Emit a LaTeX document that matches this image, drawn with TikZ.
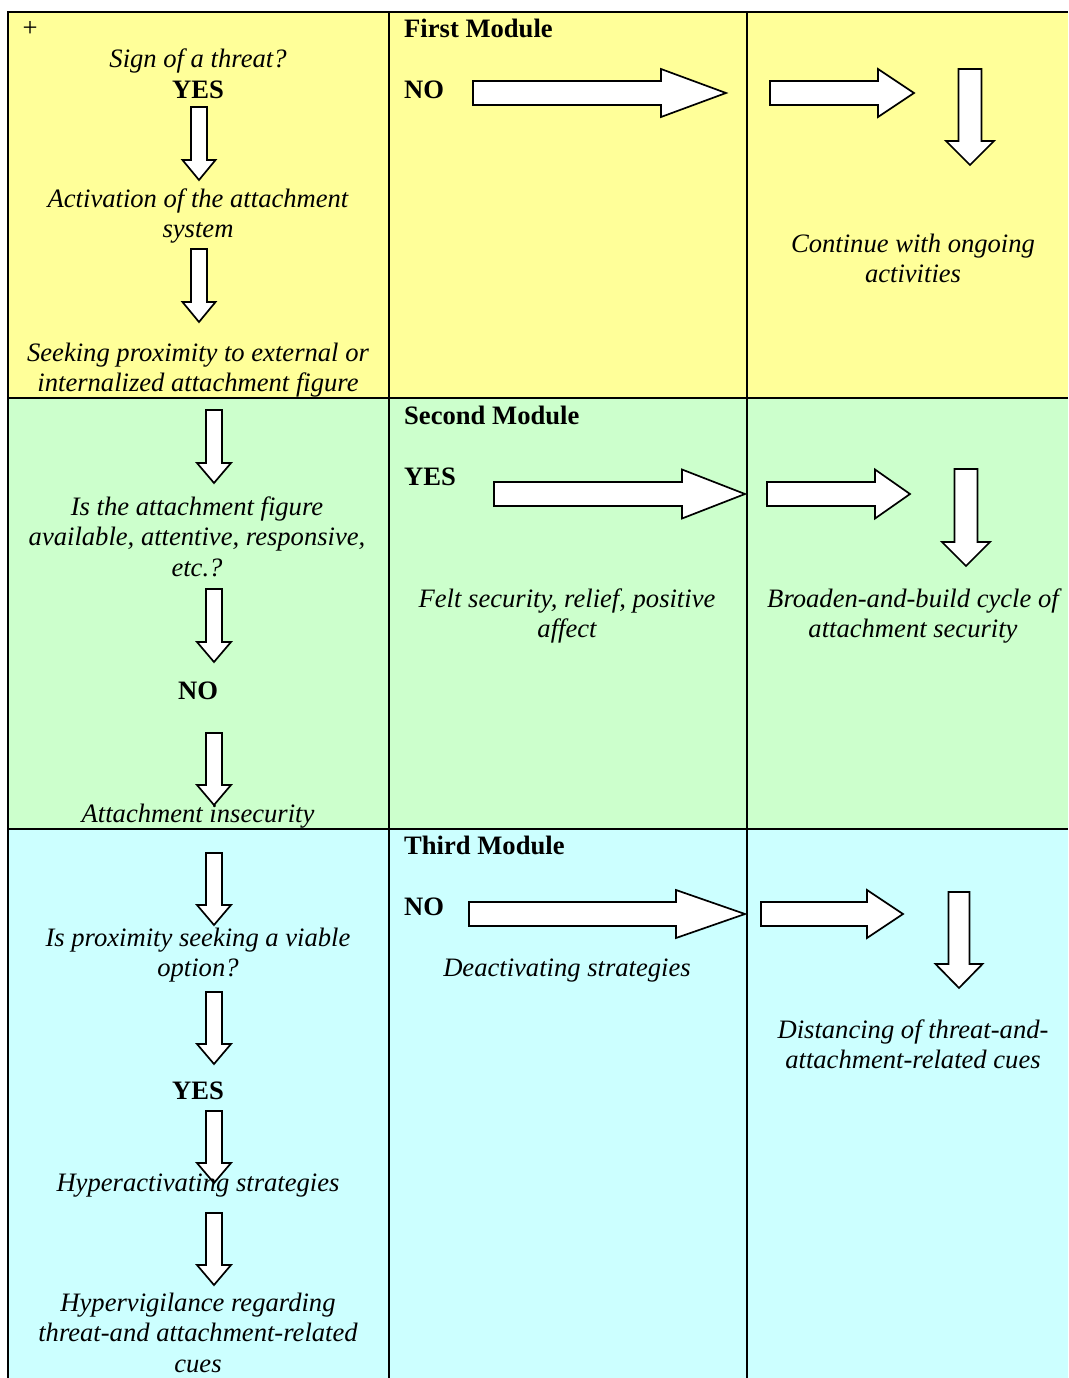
\documentclass[tikz,border=0pt]{standalone}
\usepackage{fontspec}
\setmainfont{Liberation Serif}
\definecolor{rowyellow}{HTML}{FFFF99}
\definecolor{rowgreen}{HTML}{CCFFCC}
\definecolor{rowcyan}{HTML}{CCFFFF}
\tikzset{
  blk/.style={draw=black, fill=white, line width=1.7pt, line join=miter},
  grid/.style={draw=black, line width=2pt},
  itxt/.style={font=\fontsize{26.6}{30.5}\selectfont\itshape, align=center, anchor=base, inner sep=0pt},
  btxt/.style={font=\fontsize{26.6}{30.5}\selectfont\bfseries, anchor=base, inner sep=0pt},
  hdr/.style={font=\fontsize{26.6}{30.5}\selectfont\bfseries, anchor=base west, inner sep=0pt},
}
% down block arrow: cx, ytop, ytip, shaft half-width, head half-width, head length
\newcommand\ArrDn[6]{%
  \draw[blk] ({#1-#4},#2) -- ({#1+#4},#2) -- ({#1+#4},{#3-#6}) -- ({#1+#5},{#3-#6})
    -- (#1,#3) -- ({#1-#5},{#3-#6}) -- ({#1-#4},{#3-#6}) -- cycle;}
% right block arrow: xleft, xheadbase, xtip, ycenter, shaft half-height, head half-height
\newcommand\ArrRt[6]{%
  \draw[blk] (#1,{#4-#5}) -- (#2,{#4-#5}) -- (#2,{#4-#6}) -- (#3,#4)
    -- (#2,{#4+#6}) -- (#2,{#4+#5}) -- (#1,{#4+#5}) -- cycle;}
\begin{document}
\begin{tikzpicture}[x=1pt,y=-1pt]
\useasboundingbox (0,0) rectangle (1068,1378);
% row backgrounds
\fill[rowyellow] (8,12) rectangle (1068,398);
\fill[rowgreen] (8,398) rectangle (1068,829);
\fill[rowcyan] (8,829) rectangle (1068,1378);
% grid lines
\draw[grid] (7,12) -- (1068,12);
\draw[grid] (8,12) -- (8,1378);
\draw[grid] (389,12) -- (389,1378);
\draw[grid] (747,12) -- (747,1378);
\draw[grid] (8,398) -- (1068,398);
\draw[grid] (8,829) -- (1068,829);

% ---- column 1 arrows
\ArrDn{199}{107}{180}{8}{16.5}{20}
\ArrDn{199}{249}{322}{8}{16.5}{20}
\ArrDn{214}{410}{483}{8}{17}{20}
\ArrDn{214}{589}{662}{8}{17}{20}
\ArrDn{214}{733}{805}{8}{17}{20}
\ArrDn{214}{853}{925}{8}{17}{20}
\ArrDn{214}{992}{1064}{8}{17}{20}
\ArrDn{214}{1111}{1183}{8}{17}{20}
\ArrDn{214}{1213}{1285}{8}{17}{20}

% ---- columns 2 and 3 arrows
\ArrRt{473}{661}{726}{93}{12}{24}
\ArrRt{770}{878}{914}{93}{12}{24}
\ArrDn{970}{69}{165}{11.5}{24}{24}

\ArrRt{494}{682}{745}{494}{12}{24.5}
\ArrRt{767}{875}{910}{494}{12}{24.5}
\ArrDn{966}{469}{566}{11.5}{24}{24}

\ArrRt{469}{676}{745}{914}{12}{24}
\ArrRt{761}{867}{903}{914}{12}{24}
\ArrDn{959}{892}{988}{10.5}{23.5}{24}

% ---- column 1 texts (multi-line nodes anchored at last line's baseline)
\node[btxt, font=\fontsize{26.6}{30}\selectfont] (plus) at (30,37) {+};
\node[itxt] (threat) at (198,68) {Sign of a threat?};
\node[btxt] (yes1) at (198,99) {YES};
\node[itxt] (activ) at (198,237.5) {Activation of the attachment\\system};
\node[itxt] (seek) at (198,391.5) {Seeking proximity to external or\\internalized attachment figure};
\node[itxt] (avail) at (197,576) {Is the attachment figure\\available, attentive, responsive,\\etc.?};
\node[btxt] (no2) at (198,699) {NO};
\node[itxt] (insec) at (198,822) {Attachment insecurity};
\node[itxt] (viable) at (198,976.5) {Is proximity seeking a viable\\option?};
\node[btxt] (yes3) at (198,1099) {YES};
\node[itxt] (hyper) at (198,1191) {Hyperactivating strategies};
\node[itxt] (vigil) at (198,1372) {Hypervigilance regarding\\threat-and attachment-related\\cues};

% ---- column 2 texts
\node[hdr] (mod1) at (404,38) {First Module};
\node[hdr] (no1) at (404,99) {NO};
\node[hdr] (mod2) at (404,424) {Second Module};
\node[hdr] (yes2) at (404,485) {YES};
\node[itxt] (felt) at (567,637.5) {Felt security, relief, positive\\affect};
\node[hdr] (mod3) at (404,854) {Third Module};
\node[hdr] (no3) at (404,915) {NO};
\node[itxt] (deact) at (567,976) {Deactivating strategies};

% ---- column 3 texts
\node[itxt] (cont) at (913,282.5) {Continue with ongoing\\activities};
\node[itxt] (broad) at (913,637.5) {Broaden-and-build cycle of\\attachment security};
\node[itxt] (dist) at (913,1068.5) {Distancing of threat-and-\\attachment-related cues};
\end{tikzpicture}
\end{document}
